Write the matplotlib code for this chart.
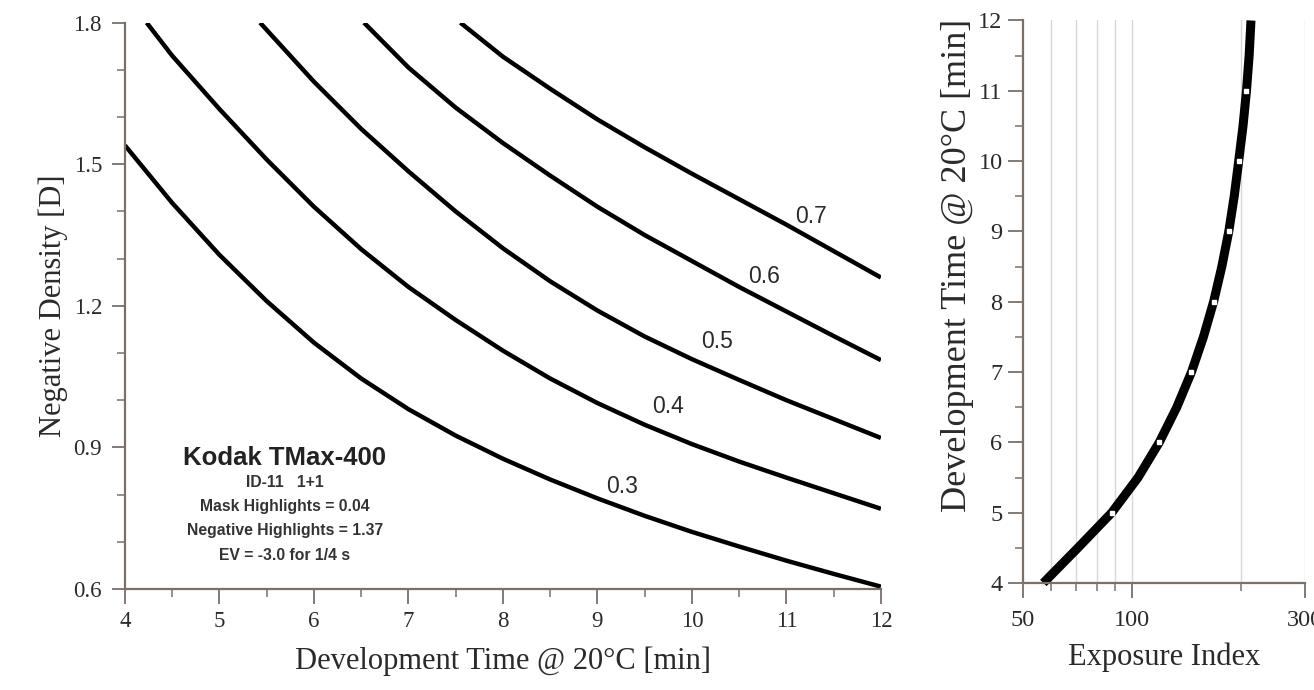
import matplotlib
matplotlib.use("Agg")
import matplotlib.pyplot as plt
from matplotlib.ticker import MultipleLocator, FixedLocator, NullFormatter, FixedFormatter

# --- left chart: density vs development time, one curve per contrast value
curve_labels = ["0.3", "0.4", "0.5", "0.6", "0.7"]
t_03 = [4, 4.5, 5, 5.5, 6, 6.5, 7, 7.5, 8, 8.5, 9, 9.5, 10, 10.5, 11, 11.5, 12]
d_03 = [1.54, 1.418, 1.308, 1.21, 1.122, 1.046, 0.981, 0.925, 0.876, 0.832,
        0.792, 0.755, 0.721, 0.69, 0.66, 0.632, 0.605]
t_04 = [4.23, 4.5, 5, 5.5, 6, 6.5, 7, 7.5, 8, 8.5, 9, 9.5, 10, 10.5, 11, 11.5, 12]
d_04 = [1.8, 1.73, 1.617, 1.51, 1.41, 1.32, 1.24, 1.17, 1.105, 1.046,
        0.994, 0.948, 0.907, 0.87, 0.836, 0.803, 0.77]
t_05 = [5.43, 6, 6.5, 7, 7.5, 8, 8.5, 9, 9.5, 10, 10.5, 11, 11.5, 12]
d_05 = [1.8, 1.675, 1.575, 1.485, 1.40, 1.322, 1.252, 1.19, 1.135, 1.087,
        1.043, 1.0, 0.96, 0.92]
t_06 = [6.53, 7, 7.5, 8, 8.5, 9, 9.5, 10, 10.5, 11, 11.5, 12]
d_06 = [1.8, 1.705, 1.62, 1.545, 1.476, 1.41, 1.35, 1.295, 1.24, 1.188,
        1.136, 1.085]
t_07 = [7.55, 8, 8.5, 9, 9.5, 10, 10.5, 11, 11.5, 12]
d_07 = [1.8, 1.728, 1.66, 1.595, 1.536, 1.48, 1.426, 1.372, 1.316, 1.26]
label_t = [9.26, 9.75, 10.27, 10.76, 11.26]
label_d = [0.817, 0.986, 1.124, 1.262, 1.389]

info_lines = ["ID-11   1+1", "Mask Highlights = 0.04",
              "Negative Highlights = 1.37", "EV = -3.0 for 1/4 s"]

# --- right chart: exposure index vs development time
dev_time = [4, 4.5, 5, 5.5, 6, 6.5, 7, 7.5, 8, 8.5, 9, 9.5, 10, 10.5, 11, 11.5, 12]
exp_index = [57, 71, 88, 104, 119, 133, 146, 157.5, 168, 177, 185, 191.5,
             197, 202.5, 207, 210.5, 213]
mark_time = [5, 6, 7, 8, 9, 10, 11]
mark_index = [88, 119, 146, 168, 185, 197, 207]
ei_grid = [60, 70, 80, 90, 100, 200, 300]

serif = "Liberation Serif"
sans = "Liberation Sans"
spine_col = "#7a706a"
txt_col = "#2a2a2a"

fig = plt.figure(figsize=(13.14, 6.9), dpi=100)

# left
ax = fig.add_axes([0.0951, 0.1464, 0.5753, 0.8207])
for t, d in [(t_03, d_03), (t_04, d_04), (t_05, d_05), (t_06, d_06), (t_07, d_07)]:
    ax.plot(t, d, color="black", lw=3.2, solid_capstyle="butt",
            solid_joinstyle="round")
for lab, x, y in zip(curve_labels, label_t, label_d):
    ax.text(x, y, lab, family=sans, fontsize=16.5, color=txt_col,
            ha="center", va="center")

ax.text(5.69, 0.878, "Kodak TMax-400", family=sans, fontsize=18.5,
        fontweight="bold", color="#222222", ha="center", va="center")
for i, line in enumerate(info_lines):
    ax.text(5.69, 0.825 - i * 0.051, line, family=sans, fontsize=11.3,
            fontweight="bold", color="#333333", ha="center", va="center")

ax.set_xlim(4, 12)
ax.set_ylim(0.6, 1.8)
ax.xaxis.set_major_locator(MultipleLocator(1))
ax.xaxis.set_minor_locator(MultipleLocator(0.5))
ax.yaxis.set_major_locator(FixedLocator([0.6, 0.9, 1.2, 1.5, 1.8]))
ax.yaxis.set_minor_locator(MultipleLocator(0.1))
ax.yaxis.set_major_formatter(FixedFormatter(["0.6", "0.9", "1.2", "1.5", "1.8"]))
ax.set_xlabel("Development Time @ 20°C [min]", family=serif, fontsize=22,
              color=txt_col, labelpad=11)
ax.set_ylabel("Negative Density [D]", family=serif, fontsize=22,
              color=txt_col, labelpad=4)

# right
ax2 = fig.add_axes([0.7783, 0.1551, 0.2148, 0.8152])
ax2.set_xscale("log")
for g in ei_grid:
    ax2.axvline(g, color="#dcd6d2", lw=1.0, zorder=0)
ax2.plot(exp_index, dev_time, color="black", lw=6.5, solid_capstyle="butt",
         solid_joinstyle="round", clip_on=False)
ax2.plot(mark_index, mark_time, ls="none", marker="s", markersize=2.8,
         markerfacecolor="white", markeredgecolor="white")
ax2.set_xlim(50, 300)
ax2.set_ylim(4, 12)
ax2.xaxis.set_major_locator(FixedLocator([50, 100, 300]))
ax2.xaxis.set_major_formatter(FixedFormatter(["50", "100", "300"]))
ax2.xaxis.set_minor_locator(FixedLocator([60, 70, 80, 90, 200]))
ax2.xaxis.set_minor_formatter(NullFormatter())
ax2.yaxis.set_major_locator(MultipleLocator(1))
ax2.yaxis.set_minor_locator(MultipleLocator(0.5))
ax2.set_xlabel("Exposure Index", family=serif, fontsize=22, color=txt_col,
               labelpad=8)
ax2.set_ylabel("Development Time @ 20°C [min]", family=serif, fontsize=26,
               color=txt_col)
ax2.yaxis.set_label_coords(-0.172, 0.565)

for a, fs in [(ax, 16.5), (ax2, 17.5)]:
    a.spines["top"].set_visible(False)
    a.spines["right"].set_visible(False)
    a.spines["left"].set_color(spine_col)
    a.spines["bottom"].set_color(spine_col)
    a.spines["left"].set_linewidth(1.6)
    a.spines["bottom"].set_linewidth(1.6)
    a.tick_params(which="major", length=10.5, width=1.3, color=spine_col,
                  labelsize=fs, labelcolor=txt_col)
    a.tick_params(which="minor", length=5.5, width=1.1, color=spine_col)
    for lbl in a.get_xticklabels() + a.get_yticklabels():
        lbl.set_family(serif)

ax.tick_params(axis="x", which="major", pad=5)
ax.tick_params(axis="y", which="major", length=9.5, pad=7)
ax2.tick_params(axis="x", which="major", pad=9)
ax2.tick_params(axis="y", which="major", pad=4)

fig.savefig("out.png", dpi=100, facecolor="white")
